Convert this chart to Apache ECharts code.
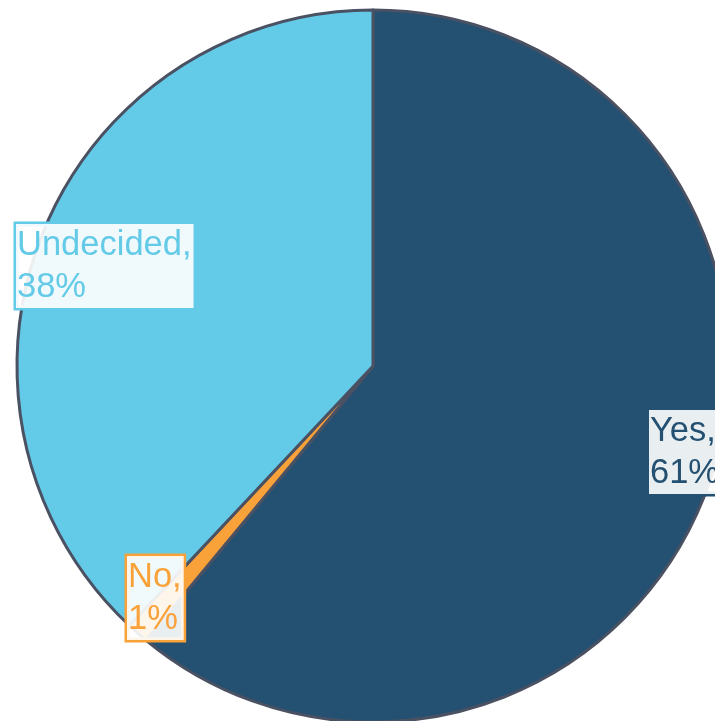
<!DOCTYPE html>
<html>
<head>
<meta charset="utf-8">
<script src="https://cdn.jsdelivr.net/npm/echarts@6/dist/echarts.min.js"></script>
<style>
  html, body { margin: 0; padding: 0; background: #fff; }
  #main { width: 715px; height: 721px; }
</style>
</head>
<body>
<div id="main"></div>
<script>
var categories = ['Yes', 'No', 'Undecided']
var values = [61, 1, 38]
var colors = ['#245071', '#f9a23a', '#63cae8']
// top-left corner of each label box
var labelPos = [[649, 410], [127, 556], [16, 224]]

function main() {
  var myChart = echarts.init(document.getElementById('main'))
  var data = categories.map((name, i) => {
    return {
      name: name,
      value: values[i],
      itemStyle: { color: colors[i] },
      label: {
        color: colors[i],
        borderColor: colors[i]
      }
    }
  })
  var option = {
    animation: false,
    series: [{
      type: 'pie',
      center: [373, 366],
      radius: 356,
      startAngle: 90,
      clockwise: true,
      avoidLabelOverlap: false,
      itemStyle: {
        borderColor: '#4a5163',
        borderWidth: 3
      },
      label: {
        show: true,
        position: 'inside',
        formatter: '{b},\n{d}%',
        fontFamily: 'Liberation Sans, Arial',
        fontSize: 34.5,
        lineHeight: 42,
        align: 'left',
        backgroundColor: 'rgba(255,255,255,0.9)',
        borderWidth: 2.5,
        padding: [0, 2, 0, 1]
      },
      labelLine: { show: false },
      labelLayout: function (params) {
        var p = labelPos[params.dataIndex]
        return { x: p[0], y: p[1], align: 'left', verticalAlign: 'top', hideOverlap: false }
      },
      emphasis: { disabled: true },
      data: data
    }]
  }
  myChart.setOption(option)
}

window.onload = main
</script>
</body>
</html>
